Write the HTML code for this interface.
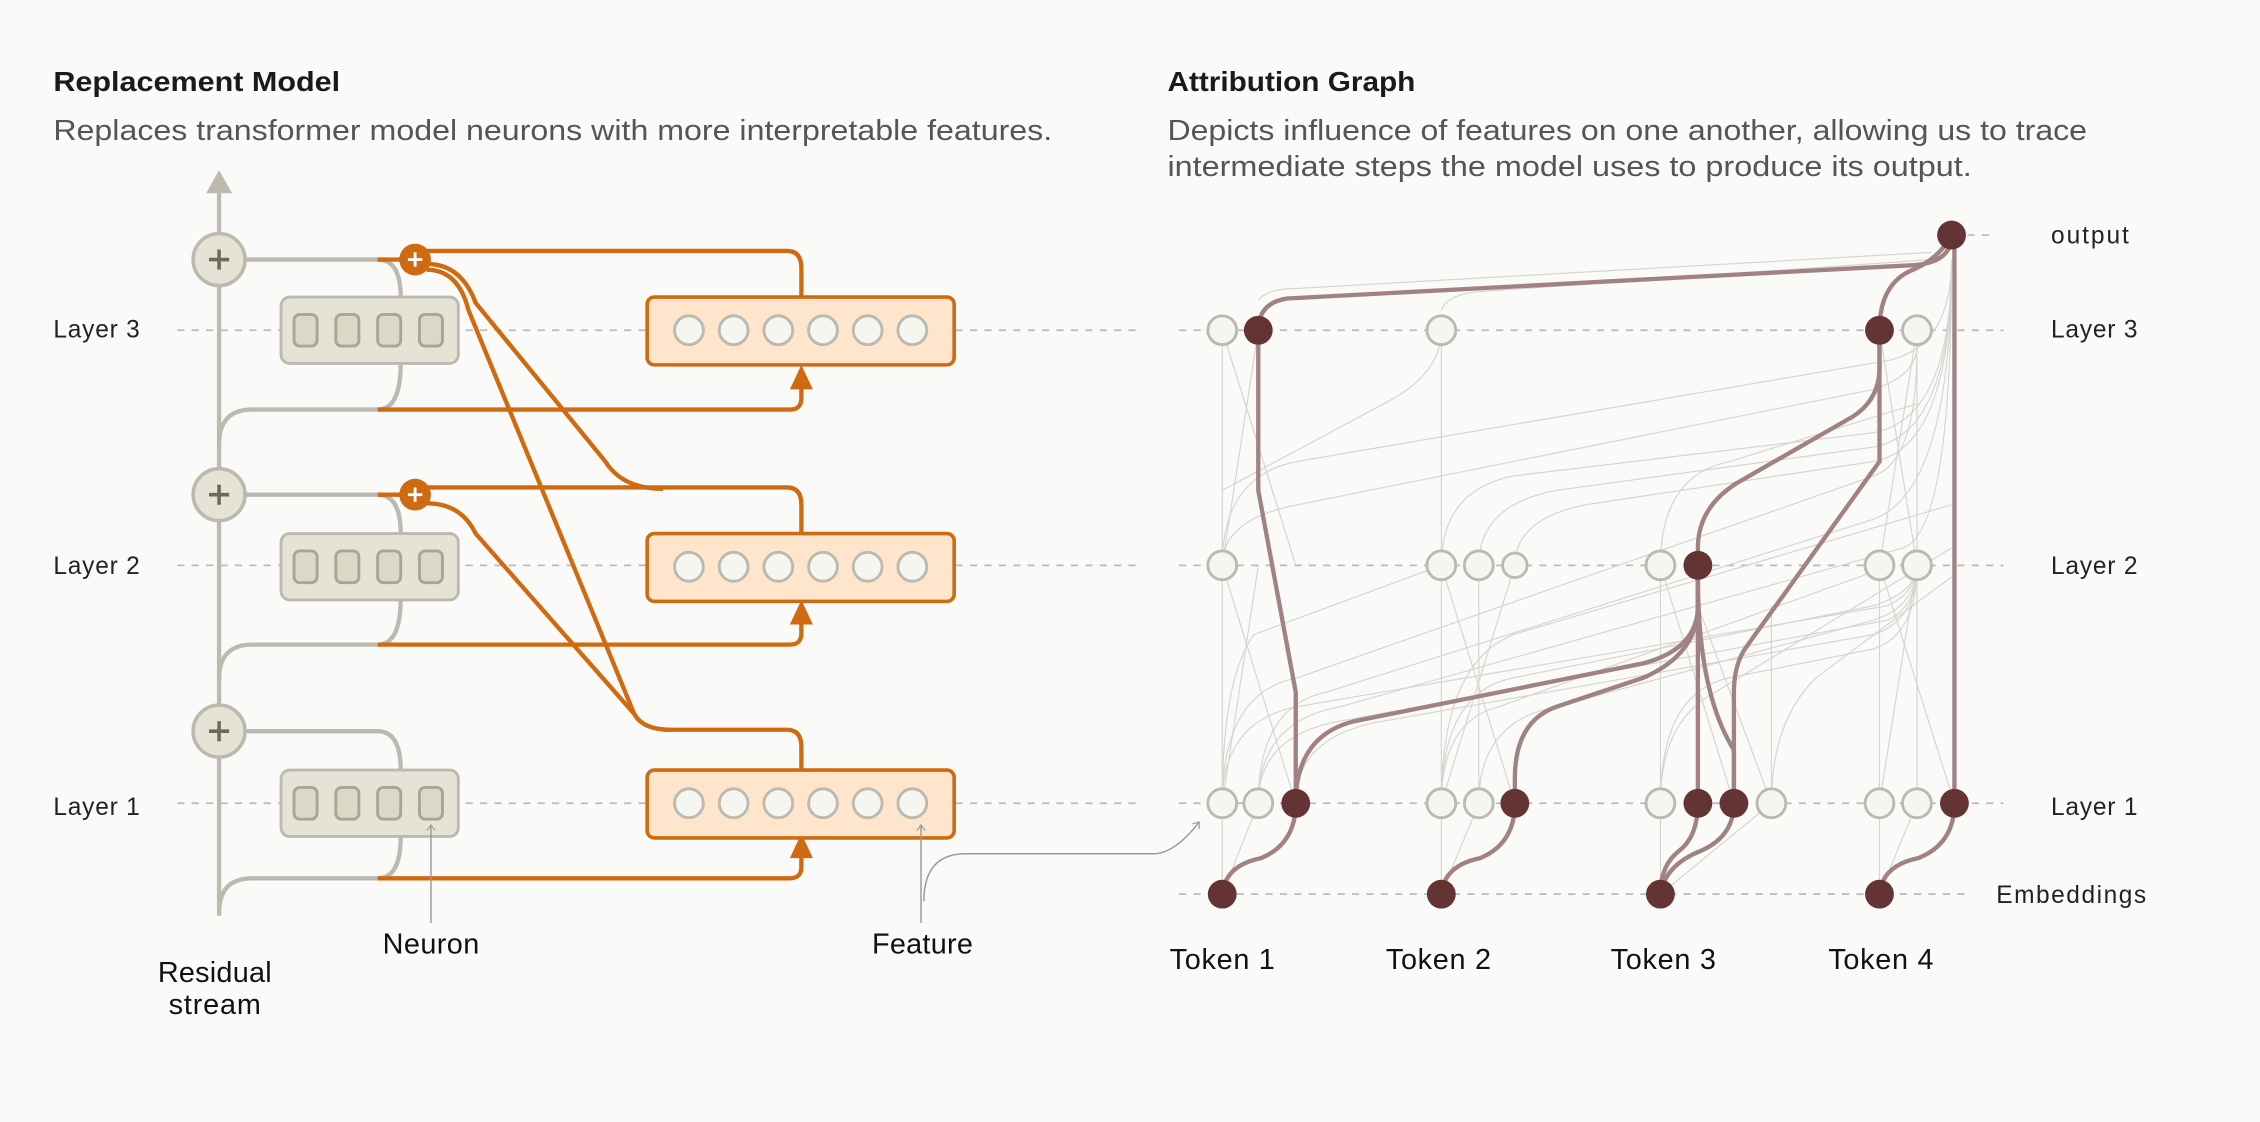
<!DOCTYPE html>
<html><head><meta charset="utf-8"><style>
html,body{margin:0;padding:0;background:#fafaf8;}
svg{display:block;font-family:"Liberation Sans",sans-serif;}
</style></head><body>
<svg width="2260" height="1122" viewBox="0 0 1568 778" preserveAspectRatio="none">
<rect width="1568" height="778" fill="#fafaf8"/>
<defs>
<marker id="ta" markerWidth="8" markerHeight="8" refX="4" refY="4" orient="auto"><path d="M0,1 L4,4 L0,7" fill="none" stroke="#999" stroke-width="0.8"/></marker>
</defs>
<text x="37" y="63" font-size="19" font-weight="bold" fill="#1a1a1a" textLength="199" lengthAdjust="spacingAndGlyphs">Replacement Model</text>
<text x="37" y="97" font-size="20" fill="#555" textLength="693" lengthAdjust="spacingAndGlyphs">Replaces transformer model neurons with more interpretable features.</text>
<text x="810" y="63" font-size="19" font-weight="bold" fill="#1a1a1a" textLength="172" lengthAdjust="spacingAndGlyphs">Attribution Graph</text>
<text x="810" y="97" font-size="20" fill="#555" textLength="638" lengthAdjust="spacingAndGlyphs">Depicts influence of features on one another, allowing us to trace</text>
<text x="810" y="122" font-size="20" fill="#555" textLength="558" lengthAdjust="spacingAndGlyphs">intermediate steps the model uses to produce its output.</text>

<g stroke="#bbb" stroke-width="1.2" stroke-dasharray="5,5">
<path d="M123 229H790M123 392H790M123 557H790"/>
<path d="M818 229H1390M818 392H1390M818 557H1390M818 620H1365M1365 163H1385"/>
</g>
<g font-size="17" fill="#222">
<text x="37" y="234" textLength="60">Layer 3</text><text x="37" y="398" textLength="60">Layer 2</text><text x="37" y="565" textLength="60">Layer 1</text>
<text x="1423" y="234" textLength="60">Layer 3</text><text x="1423" y="398" textLength="60">Layer 2</text><text x="1423" y="565" textLength="60">Layer 1</text>
<text x="1423" y="169" textLength="54">output</text><text x="1385" y="626" textLength="104">Embeddings</text>
</g>

<g stroke="#bcb9ae" stroke-width="3" fill="none">
<path d="M152 635V130"/>
<path d="M170 180H262Q278 180 278 206M278 252Q278 284 262 284H175Q152 284 152 308"/>
<path d="M170 343H262Q278 343 278 370M278 415Q278 447 262 447H175Q152 447 152 471"/>
<path d="M170 507H262Q278 507 278 534M278 580Q278 609 262 609H175Q152 609 152 633"/>
</g>
<path d="M143 134L152 118L161 134Z" fill="#bcb9ae"/>
<g fill="#e6e3d6" stroke="#bcb9ae" stroke-width="2.5">
<circle cx="152" cy="180" r="18"/><circle cx="152" cy="343" r="18"/><circle cx="152" cy="507" r="18"/>
</g>
<g stroke="#6b6a5c" stroke-width="2.5"><path d="M145 180H159M152 173V187M145 343H159M152 336V350M145 507H159M152 500V514"/></g>

<g>
<rect x="195" y="206" width="123" height="46" rx="6" fill="#e6e3d6" stroke="#bcb9ae" stroke-width="2"/>
<rect x="195" y="370" width="123" height="46" rx="6" fill="#e6e3d6" stroke="#bcb9ae" stroke-width="2"/>
<rect x="195" y="534" width="123" height="46" rx="6" fill="#e6e3d6" stroke="#bcb9ae" stroke-width="2"/>
<g fill="#dcd8c8" stroke="#a8a592" stroke-width="2">
<rect x="204" y="218" width="16" height="22" rx="4"/><rect x="233" y="218" width="16" height="22" rx="4"/><rect x="262" y="218" width="16" height="22" rx="4"/><rect x="291" y="218" width="16" height="22" rx="4"/>
<rect x="204" y="382" width="16" height="22" rx="4"/><rect x="233" y="382" width="16" height="22" rx="4"/><rect x="262" y="382" width="16" height="22" rx="4"/><rect x="291" y="382" width="16" height="22" rx="4"/>
<rect x="204" y="546" width="16" height="22" rx="4"/><rect x="233" y="546" width="16" height="22" rx="4"/><rect x="262" y="546" width="16" height="22" rx="4"/><rect x="291" y="546" width="16" height="22" rx="4"/>
</g></g>

<g stroke="#d06a10" stroke-width="3" fill="none">
<path d="M262 180H288M262 343H288"/>
<path d="M262 284H548Q556 284 556 276V268M262 447H548Q556 447 556 439V431M262 609H548Q556 609 556 601V593"/>
<path d="M288 174H546Q556 174 556 186V206"/>
<path d="M288 338H546Q556 338 556 350V370"/>
<path d="M460 506H546Q556 506 556 518V534"/>
<path d="M296 183Q320 183 330 210L420 320Q432 339 460 339"/>
<path d="M296 187Q318 187 325 215L440 495Q446 506 465 506"/>
<path d="M296 349Q320 349 330 370L440 495Q446 506 465 506"/>
</g>
<g fill="#d06a10"><path d="M548 270L556 253L564 270Z"/><path d="M548 433L556 416L564 433Z"/><path d="M548 595L556 578L564 595Z"/>
<circle cx="288" cy="180" r="11"/><circle cx="288" cy="343" r="11"/></g>
<g stroke="#fff" stroke-width="2"><path d="M283 180H293M288 175V185M283 343H293M288 338V348"/></g>

<g fill="#fee5cc" stroke="#d06a10" stroke-width="2.5">
<rect x="449" y="206" width="213" height="47" rx="5"/><rect x="449" y="370" width="213" height="47" rx="5"/><rect x="449" y="534" width="213" height="47" rx="5"/>
</g>
<g fill="#f6f6f0" stroke="#bcb9ae" stroke-width="2">
<circle cx="478" cy="229" r="10"/><circle cx="509" cy="229" r="10"/><circle cx="540" cy="229" r="10"/><circle cx="571" cy="229" r="10"/><circle cx="602" cy="229" r="10"/><circle cx="633" cy="229" r="10"/>
<circle cx="478" cy="393" r="10"/><circle cx="509" cy="393" r="10"/><circle cx="540" cy="393" r="10"/><circle cx="571" cy="393" r="10"/><circle cx="602" cy="393" r="10"/><circle cx="633" cy="393" r="10"/>
<circle cx="478" cy="557" r="10"/><circle cx="509" cy="557" r="10"/><circle cx="540" cy="557" r="10"/><circle cx="571" cy="557" r="10"/><circle cx="602" cy="557" r="10"/><circle cx="633" cy="557" r="10"/>
</g>

<g stroke="#999" stroke-width="1" fill="none" marker-end="url(#ta)">
<path d="M299 640V572"/><path d="M639 640V572"/>
<path d="M641 625Q641 592 670 592H800Q815 592 832 570"/>
</g>
<g font-size="20" fill="#111">
<text x="299" y="661" text-anchor="middle" textLength="67">Neuron</text>
<text x="640" y="661" text-anchor="middle" textLength="70">Feature</text>
<text x="149" y="681" text-anchor="middle" textLength="79">Residual</text>
<text x="149" y="703" text-anchor="middle" textLength="64">stream</text>
<text x="848" y="672" text-anchor="middle" textLength="73">Token 1</text>
<text x="998" y="672" text-anchor="middle" textLength="73">Token 2</text>
<text x="1154" y="672" text-anchor="middle" textLength="73">Token 3</text>
<text x="1305" y="672" text-anchor="middle" textLength="73">Token 4</text>
</g>

<g stroke="#d4d4d0" stroke-width="0.8" fill="none">
<path d="M848 229V557M1000 229V557M1026 392V557M1152 392V557M1304 392V557M1330 229V557M1229 420V557"/>
<path d="M848 557Q848 480 900 470L1300 330Q1330 320 1330 240"/>
<path d="M873 557Q873 490 920 480L1300 360Q1354 340 1354 180"/>
<path d="M848 392Q848 330 900 320L1310 250Q1354 240 1354 180"/>
<path d="M848 392Q848 360 900 350L1300 270Q1330 260 1330 240"/>
<path d="M873 557Q873 500 930 490L1320 380Q1354 370 1354 180"/>
<path d="M1000 557Q1000 480 1050 470L1300 420Q1330 410 1330 392"/>
<path d="M1026 557Q1026 500 1080 490L1300 430Q1330 420 1330 392"/>
<path d="M1000 392Q1000 340 1050 330L1300 300Q1354 290 1354 180"/>
<path d="M1026 392Q1026 350 1080 340L1300 310Q1354 300 1354 180"/>
<path d="M1051 392Q1051 360 1100 350L1300 320Q1354 310 1354 180"/>
<path d="M1000 229Q1000 260 960 280L848 340"/>
<path d="M1152 557Q1152 480 1200 470L1300 450Q1330 440 1330 392"/>
<path d="M1152 392Q1152 330 1200 320L1330 280"/>
<path d="M848 557Q848 500 900 490L1310 420Q1330 410 1330 392"/>
<path d="M873 557Q873 510 930 500L1310 430Q1330 420 1330 392"/>
<path d="M899 557Q899 510 960 500L1300 440Q1330 430 1330 392"/>
<path d="M1000 557Q1000 500 1040 490L1290 400Q1304 395 1304 392"/>
<path d="M848 557Q848 470 870 440L1000 392"/>
<path d="M873 392L848 557M848 392L899 557M1000 392L1051 557M1051 392L1000 557M1152 392L1203 557M1178 420L1229 557M1304 392L1356 557M1330 392L1304 557"/>
<path d="M848 229L899 392M873 229L848 392M1330 229L1304 392M1304 229L1330 392"/>
<path d="M873 208Q880 200 900 200L1340 175"/>
<path d="M1000 215Q1005 203 1030 202L1340 180"/>
<path d="M1229 557Q1229 500 1260 470L1354 400"/>
<path d="M1152 557Q1152 500 1190 480L1354 380"/>
<path d="M1000 557Q1000 460 1050 440L1354 350"/>
<path d="M848 620L873 557M848 620L848 557M1000 620L1026 557M1000 620L1000 557M1152 620L1152 557M1152 620L1229 557M1304 620L1330 557M1304 620L1304 557"/>
</g>

<g stroke="#a08284" stroke-width="3" fill="none">
<path d="M1354 163Q1354 183 1325 184L893 207Q873 210 873 229"/>
<path d="M1354 163Q1345 180 1325 188Q1304 198 1304 229"/>
<path d="M1356 163V557"/>
<path d="M873 229V340L899 480V557"/>
<path d="M1304 229V255Q1304 280 1280 292L1205 335Q1178 352 1178 380V392"/>
<path d="M1304 229V320L1212 448Q1203 460 1203 480V557"/>
<path d="M1178 392V420Q1178 450 1140 460L940 500Q899 510 899 557"/>
<path d="M1178 392V425Q1175 455 1140 470L1080 490Q1051 500 1051 540V557"/>
<path d="M1178 392V557M1178 400Q1178 480 1203 520V557"/>
<path d="M848 620Q850 600 875 595Q899 585 899 557"/>
<path d="M1000 620Q1002 600 1027 595Q1051 585 1051 557"/>
<path d="M1152 620Q1152 600 1165 590Q1178 580 1178 557"/>
<path d="M1152 620Q1155 600 1180 590Q1203 580 1203 557"/>
<path d="M1304 620Q1306 600 1331 595Q1356 585 1356 557"/>
</g>

<g fill="#f6f6f0" stroke="#bcb9ae" stroke-width="2">
<circle cx="848" cy="229" r="10"/><circle cx="1000" cy="229" r="10"/><circle cx="1330" cy="229" r="10"/>
<circle cx="848" cy="392" r="10"/><circle cx="1000" cy="392" r="10"/><circle cx="1026" cy="392" r="10"/><circle cx="1051" cy="392" r="8.5"/><circle cx="1152" cy="392" r="10"/><circle cx="1304" cy="392" r="10"/><circle cx="1330" cy="392" r="10"/>
<circle cx="848" cy="557" r="10"/><circle cx="873" cy="557" r="10"/><circle cx="1000" cy="557" r="10"/><circle cx="1026" cy="557" r="10"/><circle cx="1152" cy="557" r="10"/><circle cx="1229" cy="557" r="10"/><circle cx="1304" cy="557" r="10"/><circle cx="1330" cy="557" r="10"/>
</g>
<g fill="#643334">
<circle cx="1354" cy="163" r="10"/>
<circle cx="873" cy="229" r="10"/><circle cx="1304" cy="229" r="10"/>
<circle cx="1178" cy="392" r="10"/>
<circle cx="899" cy="557" r="10"/><circle cx="1051" cy="557" r="10"/><circle cx="1178" cy="557" r="10"/><circle cx="1203" cy="557" r="10"/><circle cx="1356" cy="557" r="10"/>
<circle cx="848" cy="620" r="10"/><circle cx="1000" cy="620" r="10"/><circle cx="1152" cy="620" r="10"/><circle cx="1304" cy="620" r="10"/>
</g>
</svg>
</body></html>
